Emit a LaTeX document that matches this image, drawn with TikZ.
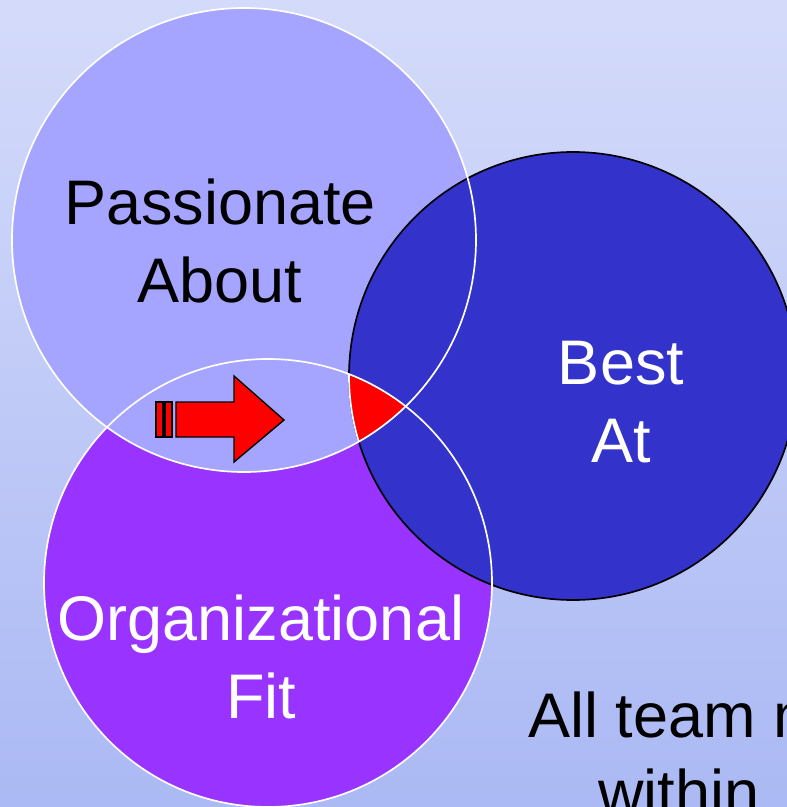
\documentclass[tikz,border=0pt]{standalone}
\usepackage{fontspec}
\setmainfont{Liberation Sans}
\usetikzlibrary{positioning}

\definecolor{bgtop}{HTML}{D4DBFA}
\definecolor{bgbottom}{HTML}{ABB9F4}
\definecolor{passion}{HTML}{A5A5FF}
\definecolor{bestat}{HTML}{3333CC}
\definecolor{orgfit}{HTML}{9933FF}

\begin{document}
\begin{tikzpicture}[x=0.025cm,y=-0.025cm,
  bigtext/.style={font=\fontsize{44.8}{54.8}\selectfont,align=center,anchor=base,inner sep=0pt},
  ring/.style={line width=1.2pt}]
% Background
\useasboundingbox (0,0) rectangle (787,807);
\clip (0,0) rectangle (787,807);
\shade[top color=bgtop,bottom color=bgbottom] (0,0) rectangle (787,807);

% Circle centres
\coordinate (pa) at (244,240);
\coordinate (ba) at (573,376);
\coordinate (of) at (268,583);

% Fills
\fill[orgfit] (of) circle (224);
\fill[passion] (pa) circle (232);
\fill[bestat] (ba) circle (224);
\draw[ring,black] (ba) circle (224);

% Sweet spot
\begin{scope}
  \clip (pa) circle (232);
  \clip (of) circle (224);
  \filldraw[red,draw=white,ring] (ba) circle (224);
\end{scope}

\draw[ring,white] (pa) circle (232);
\draw[ring,white] (of) circle (224);

% Block arrow
\draw[fill=red,line width=1pt] (156,402) rectangle (163,437);
\draw[fill=red,line width=1pt] (165,402) rectangle (172,437);
\draw[fill=red,line width=1pt] (176,402) -- (234,402) -- (234,376) -- (284,420)
  -- (234,462) -- (234,437) -- (176,437) -- cycle;

% Labels (base = last line)
\node[bigtext] (passionate) at (220,302) {Passionate\\About};
\node[bigtext,text=white] (best) at (621,462) {Best\\At};
\node[bigtext,text=white] (fit) at (261,718) {Organizational\\Fit};
\node[bigtext,anchor=base west] (team) at (528,737) {All team m};
\node[bigtext,anchor=base west] (within) at (598,814) {within};
\end{tikzpicture}
\end{document}
